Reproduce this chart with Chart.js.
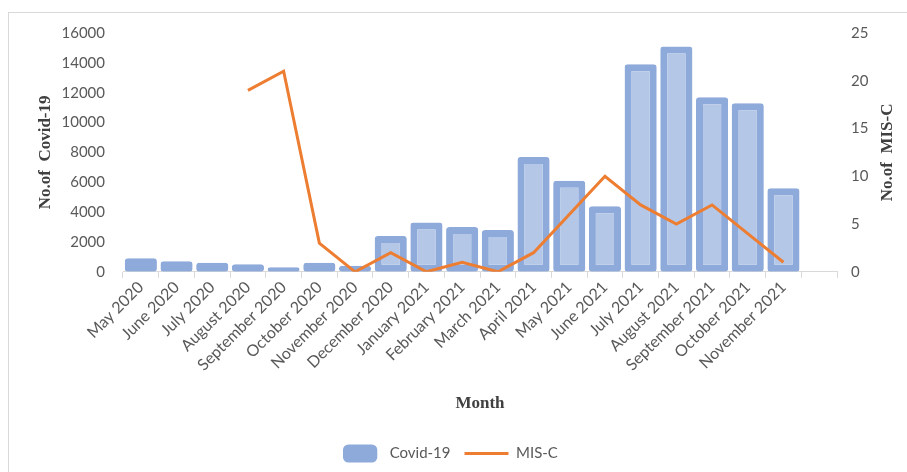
<!DOCTYPE html>
<html>
<head>
<meta charset="utf-8">
<script src="https://cdn.jsdelivr.net/npm/chart.js@4"></script>
<style>
  html, body { margin: 0; padding: 0; background: #fff; }
  #box { position: absolute; left: 8px; top: 12px; width: 905px; height: 470px; border: 1px solid #d9d9d9; box-sizing: border-box; }
  #wrap { position: absolute; left: 0; top: 0; width: 907px; height: 472px; }
</style>
</head>
<body>
<div id="box"></div>
<div id="wrap"><canvas id="chart"></canvas></div>
<script>
// month labels (last slot is empty, as in the original)
const months = ["May 2020","June 2020","July 2020","August 2020","September 2020","October 2020",
  "November 2020","December 2020","January 2021","February 2021","March 2021","April 2021",
  "May 2021","June 2021","July 2021","August 2021","September 2021","October 2021","November 2021",""];
const covidCases = [900,700,600,500,300,600,400,2400,3300,3000,2800,7700,6100,4400,13900,15100,11700,11300,5600,null];
const misCases = [null,null,null,19,21,3,0,2,0,1,0,2,6,10,7,5,7,4,1,null];

const leftTicks = { min: 0, max: 16000, step: 2000 };
const rightTicks = { min: 0, max: 25, step: 5 };

const sans = "Lato, 'Open Sans', sans-serif";
const serif = "'Liberation Serif', 'Times New Roman', serif";
const titleFont = { family: serif, size: 17, weight: "bold" };

// right axis title reads bottom-to-top like the left one
const rightTitle = {
  id: "rightTitle",
  afterDraw(chart) {
    const ctx = chart.ctx;
    const a = chart.chartArea;
    ctx.save();
    ctx.translate(888, (a.top + a.bottom) / 2);
    ctx.rotate(-Math.PI / 2);
    ctx.font = "bold 17px " + serif;
    ctx.fillStyle = "#404040";
    ctx.textAlign = "center";
    ctx.textBaseline = "middle";
    ctx.fillText("No.of  MIS-C", 0, 0);
    ctx.restore();
  }
};

new Chart(document.getElementById("chart"), {
  data: {
    labels: months,
    datasets: [
      {
        type: "bar",
        label: "Covid-19",
        data: covidCases,
        yAxisID: "y",
        backgroundColor: "#b4c7e7",
        borderColor: "#8eaadb",
        borderWidth: 7,
        borderSkipped: false,
        borderRadius: 3,
        categoryPercentage: 0.9,
        barPercentage: 1,
        order: 1
      },
      {
        type: "line",
        label: "MIS-C",
        data: misCases,
        yAxisID: "y1",
        borderColor: "#ed7d31",
        backgroundColor: "#ed7d31",
        borderWidth: 3,
        pointRadius: 0,
        pointStyle: "line",
        tension: 0,
        order: 0
      }
    ]
  },
  plugins: [rightTitle],
  options: {
    responsive: true,
    maintainAspectRatio: false,
    animation: false,
    layout: { padding: { left: 28, right: 39, top: 33, bottom: 1 } },
    plugins: {
      tooltip: { enabled: false },
      legend: {
        position: "bottom",
        labels: {
          color: "#595959",
          font: { family: sans, size: 15 },
          usePointStyle: true,
          pointStyleWidth: 44,
          boxHeight: 16,
          padding: 14,
          generateLabels: function (chart) {
            return chart.data.datasets.map((ds, i) => ({
              text: ds.label,
              datasetIndex: i,
              fillStyle: i === 0 ? "#8eaadb" : "#ed7d31",
              strokeStyle: i === 0 ? "#8eaadb" : "#ed7d31",
              lineWidth: i === 0 ? 0 : 3,
              pointStyle: i === 0 ? "rectRounded" : "line",
              fontColor: "#595959",
              hidden: false
            }));
          }
        }
      }
    },
    scales: {
      x: {
        grid: { display: true, drawOnChartArea: false, drawTicks: true, tickLength: 6, color: "#d9d9d9", offset: true },
        border: { color: "#d9d9d9" },
        ticks: { color: "#595959", font: { family: sans, size: 16 }, minRotation: 45, maxRotation: 45, autoSkip: false, padding: 0 },
        title: { display: true, text: "Month", color: "#404040", font: titleFont, padding: { top: 19, bottom: 18 } },
        // rotated labels may run under the left axis, as in the original
        afterFit(scale) { scale.paddingLeft = 0; scale.paddingRight = 0; }
      },
      y: {
        position: "left",
        min: leftTicks.min,
        max: leftTicks.max,
        grid: { display: false, drawTicks: false },
        border: { display: false },
        ticks: { stepSize: leftTicks.step, color: "#595959", font: { family: sans, size: 15 }, padding: 18,
          callback: v => String(v) },
        title: { display: true, text: "No.of  Covid-19", color: "#404040", font: titleFont, padding: 7 },
        afterFit(scale) { scale.width = 95; }
      },
      y1: {
        position: "right",
        min: rightTicks.min,
        max: rightTicks.max,
        grid: { display: false, drawTicks: false },
        border: { display: false },
        ticks: { stepSize: rightTicks.step, color: "#595959", font: { family: sans, size: 15 }, padding: 14,
          callback: v => String(v) },
        title: { display: false },
        afterFit(scale) { scale.width = 31; }
      }
    }
  }
});
</script>
</body>
</html>
